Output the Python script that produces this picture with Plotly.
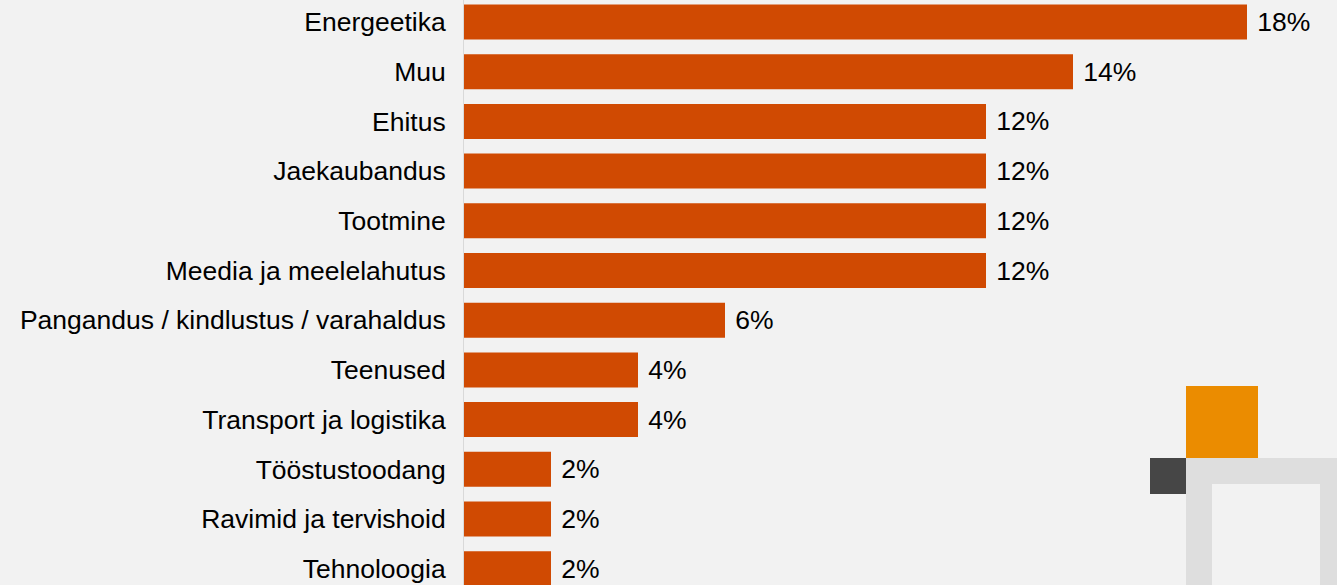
import plotly.graph_objects as go

categories = [
    "Energeetika", "Muu", "Ehitus", "Jaekaubandus", "Tootmine",
    "Meedia ja meelelahutus", "Pangandus / kindlustus / varahaldus",
    "Teenused", "Transport ja logistika", "Tööstustoodang",
    "Ravimid ja tervishoid", "Tehnoloogia",
]
values = [18, 14, 12, 12, 12, 12, 6, 4, 4, 2, 2, 2]
value_labels = [f"{v}%" for v in values]

W, H = 1337, 585
L = 464
BG = "#F2F2F2"
FONT = "Liberation Sans, Arial, sans-serif"

fig = go.Figure(go.Bar(
    x=values, y=categories, orientation="h",
    marker=dict(color="#D04A02", line=dict(width=0)),
    text=[" " + t for t in value_labels],
    textposition="outside",
    textfont=dict(family=FONT, size=26.5, color="#000000"),
    cliponaxis=False,
    hoverinfo="skip",
))

def px(x):
    return (x - L) / (W - L)

def py(y):
    return 1 - y / H

shapes = []
def rect(x0, y0, x1, y1, color):
    shapes.append(dict(type="rect", xref="paper", yref="paper",
                       x0=px(x0), x1=px(x1), y0=py(y1), y1=py(y0),
                       fillcolor=color, line=dict(width=0), layer="above"))

rect(1186, 386, 1258, 458, "#EB8C00")
rect(1150, 458, 1186, 494, "#464646")
rect(1186, 458, 1212, 600, "#DEDEDE")
rect(1186, 458, 1346, 484, "#DEDEDE")
rect(1320, 458, 1346, 600, "#DEDEDE")

fig.update_layout(
    width=W, height=H,
    margin=dict(l=L, r=0, t=0, b=0),
    paper_bgcolor=BG, plot_bgcolor=BG,
    bargap=0.296,
    showlegend=False,
    shapes=shapes,
    xaxis=dict(range=[0, (W - L) / 43.5], visible=False, fixedrange=True),
    yaxis=dict(
        range=[11.328, -0.443],
        tickfont=dict(family=FONT, size=26.5, color="#000000"),
        ticks="outside", ticklen=12, tickcolor="rgba(0,0,0,0)",
        showline=True, linecolor="#D9D9D9", linewidth=1,
        showgrid=False, zeroline=False, fixedrange=True,
    ),
)

fig.write_html(
    "out.html",
    config={"displayModeBar": False, "staticPlot": True},
    post_script="document.body.style.margin='0';document.body.style.background='#F2F2F2';document.body.style.overflow='hidden';",
)
